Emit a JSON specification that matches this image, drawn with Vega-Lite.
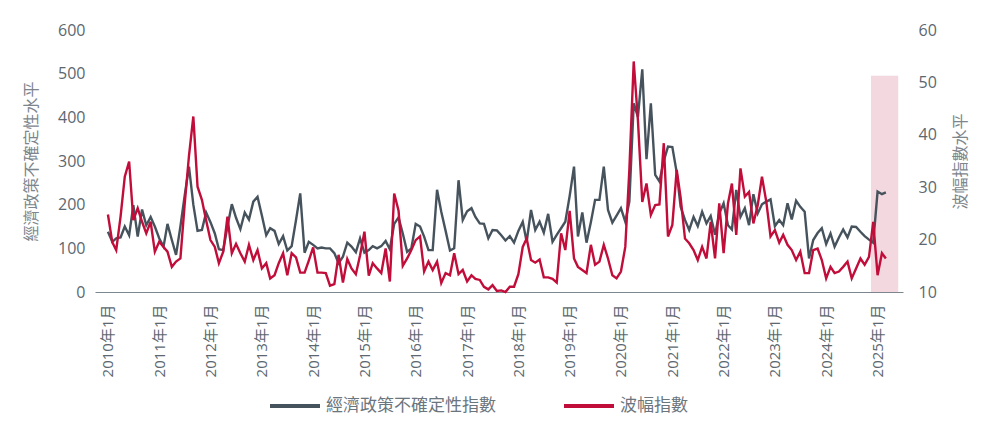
{
  "$schema": "https://vega.github.io/schema/vega-lite/v6.json",
  "width": 808,
  "height": 262,
  "autosize": {"type": "none"},
  "padding": {"left": 95, "top": 30, "right": 85, "bottom": 147},
  "background": "white",
  "config": {"view": {"stroke": null}, "font": "Open Sans, Noto Sans CJK TC, sans-serif"},
  "datasets": {
    "band": [{"s": "2024-11-15", "t": "2025-05-28", "y0": 0, "y1": 495}],
    "main": [
      {"d":"2010-01","e":138,"v":24.8},{"d":"2010-02","e":115,"v":19.5},{"d":"2010-03","e":123,"v":18.0},{"d":"2010-04","e":125,"v":24.4},{"d":"2010-05","e":150,"v":32.0},{"d":"2010-06","e":130,"v":34.9},{"d":"2010-07","e":199,"v":23.7},{"d":"2010-08","e":127,"v":26.0},{"d":"2010-09","e":189,"v":23.4},{"d":"2010-10","e":153,"v":21.2},{"d":"2010-11","e":172,"v":23.4},{"d":"2010-12","e":150,"v":17.7},
      {"d":"2011-01","e":123,"v":19.6},{"d":"2011-02","e":104,"v":18.6},{"d":"2011-03","e":156,"v":17.7},{"d":"2011-04","e":119,"v":14.8},{"d":"2011-05","e":85,"v":15.8},{"d":"2011-06","e":150,"v":16.4},{"d":"2011-07","e":220,"v":26.6},{"d":"2011-08","e":287,"v":36.0},{"d":"2011-09","e":200,"v":43.5},{"d":"2011-10","e":140,"v":30.1},{"d":"2011-11","e":142,"v":27.6},{"d":"2011-12","e":182,"v":23.7},
      {"d":"2012-01","e":160,"v":19.9},{"d":"2012-02","e":134,"v":18.6},{"d":"2012-03","e":98,"v":15.5},{"d":"2012-04","e":96,"v":17.7},{"d":"2012-05","e":150,"v":24.4},{"d":"2012-06","e":201,"v":17.4},{"d":"2012-07","e":170,"v":19.2},{"d":"2012-08","e":144,"v":17.4},{"d":"2012-09","e":182,"v":15.8},{"d":"2012-10","e":166,"v":19.0},{"d":"2012-11","e":207,"v":16.1},{"d":"2012-12","e":218,"v":18.0},
      {"d":"2013-01","e":175,"v":14.5},{"d":"2013-02","e":130,"v":15.5},{"d":"2013-03","e":146,"v":12.6},{"d":"2013-04","e":140,"v":13.2},{"d":"2013-05","e":110,"v":15.5},{"d":"2013-06","e":128,"v":17.4},{"d":"2013-07","e":95,"v":13.2},{"d":"2013-08","e":105,"v":17.4},{"d":"2013-09","e":165,"v":16.6},{"d":"2013-10","e":226,"v":13.7},{"d":"2013-11","e":90,"v":13.7},{"d":"2013-12","e":115,"v":16.0},
      {"d":"2014-01","e":108,"v":18.5},{"d":"2014-02","e":100,"v":13.7},{"d":"2014-03","e":102,"v":13.7},{"d":"2014-04","e":100,"v":13.6},{"d":"2014-05","e":100,"v":11.2},{"d":"2014-06","e":89,"v":11.5},{"d":"2014-07","e":66,"v":17.1},{"d":"2014-08","e":81,"v":11.8},{"d":"2014-09","e":113,"v":16.3},{"d":"2014-10","e":104,"v":14.5},{"d":"2014-11","e":91,"v":13.4},{"d":"2014-12","e":123,"v":17.0},
      {"d":"2015-01","e":90,"v":21.5},{"d":"2015-02","e":96,"v":13.1},{"d":"2015-03","e":105,"v":15.5},{"d":"2015-04","e":100,"v":14.5},{"d":"2015-05","e":105,"v":13.6},{"d":"2015-06","e":117,"v":18.3},{"d":"2015-07","e":98,"v":12.0},{"d":"2015-08","e":156,"v":28.8},{"d":"2015-09","e":171,"v":25.5},{"d":"2015-10","e":134,"v":15.0},{"d":"2015-11","e":92,"v":16.4},{"d":"2015-12","e":100,"v":18.0},
      {"d":"2016-01","e":156,"v":19.9},{"d":"2016-02","e":150,"v":20.6},{"d":"2016-03","e":127,"v":13.9},{"d":"2016-04","e":96,"v":15.8},{"d":"2016-05","e":96,"v":14.2},{"d":"2016-06","e":234,"v":15.8},{"d":"2016-07","e":184,"v":11.7},{"d":"2016-08","e":140,"v":13.6},{"d":"2016-09","e":95,"v":13.2},{"d":"2016-10","e":100,"v":17.4},{"d":"2016-11","e":256,"v":13.4},{"d":"2016-12","e":165,"v":14.2},
      {"d":"2017-01","e":185,"v":12.0},{"d":"2017-02","e":192,"v":13.2},{"d":"2017-03","e":172,"v":12.5},{"d":"2017-04","e":157,"v":12.3},{"d":"2017-05","e":156,"v":11.0},{"d":"2017-06","e":123,"v":10.5},{"d":"2017-07","e":142,"v":11.3},{"d":"2017-08","e":141,"v":10.2},{"d":"2017-09","e":130,"v":10.3},{"d":"2017-10","e":118,"v":10.0},{"d":"2017-11","e":128,"v":11.0},{"d":"2017-12","e":113,"v":11.0},
      {"d":"2018-01","e":140,"v":13.4},{"d":"2018-02","e":161,"v":18.6},{"d":"2018-03","e":115,"v":20.2},{"d":"2018-04","e":188,"v":16.1},{"d":"2018-05","e":142,"v":15.6},{"d":"2018-06","e":161,"v":16.2},{"d":"2018-07","e":136,"v":12.8},{"d":"2018-08","e":179,"v":12.8},{"d":"2018-09","e":115,"v":12.5},{"d":"2018-10","e":131,"v":11.8},{"d":"2018-11","e":146,"v":21.2},{"d":"2018-12","e":161,"v":18.0},
      {"d":"2019-01","e":220,"v":25.5},{"d":"2019-02","e":287,"v":16.4},{"d":"2019-03","e":127,"v":14.8},{"d":"2019-04","e":182,"v":14.2},{"d":"2019-05","e":113,"v":13.6},{"d":"2019-06","e":160,"v":19.0},{"d":"2019-07","e":211,"v":15.2},{"d":"2019-08","e":211,"v":15.8},{"d":"2019-09","e":287,"v":19.0},{"d":"2019-10","e":188,"v":16.4},{"d":"2019-11","e":159,"v":13.2},{"d":"2019-12","e":175,"v":12.6},
      {"d":"2020-01","e":192,"v":13.9},{"d":"2020-02","e":161,"v":18.6},{"d":"2020-03","e":207,"v":33.3},{"d":"2020-04","e":432,"v":54.0},{"d":"2020-05","e":401,"v":42.8},{"d":"2020-06","e":510,"v":27.2},{"d":"2020-07","e":304,"v":30.7},{"d":"2020-08","e":432,"v":24.7},{"d":"2020-09","e":268,"v":26.6},{"d":"2020-10","e":253,"v":26.7},{"d":"2020-11","e":300,"v":38.4},{"d":"2020-12","e":333,"v":20.6},
      {"d":"2021-01","e":332,"v":22.8},{"d":"2021-02","e":274,"v":33.3},{"d":"2021-03","e":195,"v":28.0},{"d":"2021-04","e":165,"v":20.2},{"d":"2021-05","e":142,"v":19.3},{"d":"2021-06","e":172,"v":18.0},{"d":"2021-07","e":151,"v":16.1},{"d":"2021-08","e":184,"v":18.6},{"d":"2021-09","e":157,"v":16.4},{"d":"2021-10","e":174,"v":23.4},{"d":"2021-11","e":131,"v":16.4},{"d":"2021-12","e":180,"v":26.9},
      {"d":"2022-01","e":203,"v":17.4},{"d":"2022-02","e":153,"v":26.9},{"d":"2022-03","e":143,"v":30.7},{"d":"2022-04","e":234,"v":20.9},{"d":"2022-05","e":172,"v":33.6},{"d":"2022-06","e":192,"v":28.2},{"d":"2022-07","e":153,"v":29.1},{"d":"2022-08","e":224,"v":23.1},{"d":"2022-09","e":180,"v":26.6},{"d":"2022-10","e":201,"v":32.0},{"d":"2022-11","e":207,"v":27.2},{"d":"2022-12","e":212,"v":20.6},
      {"d":"2023-01","e":151,"v":21.8},{"d":"2023-02","e":165,"v":19.4},{"d":"2023-03","e":153,"v":20.9},{"d":"2023-04","e":203,"v":19.0},{"d":"2023-05","e":166,"v":18.0},{"d":"2023-06","e":209,"v":16.1},{"d":"2023-07","e":195,"v":17.7},{"d":"2023-08","e":184,"v":13.6},{"d":"2023-09","e":77,"v":13.6},{"d":"2023-10","e":119,"v":18.0},{"d":"2023-11","e":135,"v":18.3},{"d":"2023-12","e":146,"v":16.1},
      {"d":"2024-01","e":110,"v":12.6},{"d":"2024-02","e":134,"v":14.8},{"d":"2024-03","e":104,"v":13.6},{"d":"2024-04","e":125,"v":13.9},{"d":"2024-05","e":143,"v":14.8},{"d":"2024-06","e":125,"v":15.8},{"d":"2024-07","e":150,"v":12.6},{"d":"2024-08","e":149,"v":14.5},{"d":"2024-09","e":138,"v":16.4},{"d":"2024-10","e":128,"v":15.2},{"d":"2024-11","e":120,"v":16.7},{"d":"2024-12","e":113,"v":23.4},
      {"d":"2025-01","e":230,"v":13.2},{"d":"2025-02","e":224,"v":17.4},{"d":"2025-03","e":228,"v":16.4}
    ]
  },
  "data": {"name": "main"},
  "layer": [
    {
      "layer": [
        {
          "data": {"name": "band"},
          "mark": {"type": "rect", "color": "#f3d8df"},
          "encoding": {
            "x": {"field": "s", "type": "temporal",
              "scale": {"type": "utc", "domain": [{"year": 2009, "month": 10, "date": 1, "utc": true}, {"year": 2025, "month": 7, "date": 1, "utc": true}]},
              "axis": {"title": null, "grid": false, "ticks": false, "labelAngle": -90, "labelPadding": 12, "labelFontSize": 15, "labelColor": "#5c6770", "domainColor": "#7d868d", "labelOverlap": false, "labelFlush": false,
                "values": [{"year":2010,"month":1,"date":1,"utc":true},{"year":2011,"month":1,"date":1,"utc":true},{"year":2012,"month":1,"date":1,"utc":true},{"year":2013,"month":1,"date":1,"utc":true},{"year":2014,"month":1,"date":1,"utc":true},{"year":2015,"month":1,"date":1,"utc":true},{"year":2016,"month":1,"date":1,"utc":true},{"year":2017,"month":1,"date":1,"utc":true},{"year":2018,"month":1,"date":1,"utc":true},{"year":2019,"month":1,"date":1,"utc":true},{"year":2020,"month":1,"date":1,"utc":true},{"year":2021,"month":1,"date":1,"utc":true},{"year":2022,"month":1,"date":1,"utc":true},{"year":2023,"month":1,"date":1,"utc":true},{"year":2024,"month":1,"date":1,"utc":true},{"year":2025,"month":1,"date":1,"utc":true}],
                "labelExpr": "utcFormat(datum.value, '%Y') + '年1月'"}},
            "x2": {"field": "t"},
            "y": {"field": "y0", "type": "quantitative",
              "scale": {"domain": [0, 600], "nice": false, "zero": false},
              "axis": {"title": "經濟政策不確定性水平", "values": [0, 100, 200, 300, 400, 500, 600], "domain": false, "ticks": false, "grid": false, "labelPadding": 10, "labelFontSize": 16, "labelColor": "#5c6770", "titleColor": "#7d868d", "titleFontSize": 16, "titleFontWeight": "normal", "titlePadding": 18}},
            "y2": {"field": "y1"}
          }
        },
        {
          "mark": {"type": "line", "strokeWidth": 2.4},
          "encoding": {
            "x": {"field": "d", "type": "temporal"},
            "y": {"field": "e", "type": "quantitative", "title": "經濟政策不確定性水平"},
            "color": {"datum": "經濟政策不確定性指數", "type": "nominal",
              "scale": {"domain": ["經濟政策不確定性指數", "波幅指數"], "range": ["#46535d", "#c00d3a"]},
              "legend": {"orient": "none", "legendX": 173, "legendY": 349, "direction": "horizontal", "title": null, "symbolType": "stroke", "symbolSize": 2500, "symbolStrokeWidth": 4, "labelFontSize": 17, "labelColor": "#6b757d", "labelOffset": 4, "labelLimit": 0, "columnPadding": 60}}
          }
        }
      ]
    },
    {
      "mark": {"type": "line", "strokeWidth": 2.4},
      "encoding": {
        "x": {"field": "d", "type": "temporal"},
        "y": {"field": "v", "type": "quantitative",
          "scale": {"domain": [10, 60], "nice": false, "zero": false},
          "axis": {"orient": "right", "title": "波幅指數水平", "values": [10, 20, 30, 40, 50, 60], "domain": false, "ticks": false, "grid": false, "labelPadding": 15, "labelFontSize": 16, "labelColor": "#5c6770", "titleColor": "#7d868d", "titleFontSize": 16, "titleFontWeight": "normal", "titlePadding": 32, "titleAngle": 270}},
        "color": {"datum": "波幅指數", "type": "nominal"}
      }
    }
  ],
  "resolve": {"scale": {"y": "independent"}}
}
